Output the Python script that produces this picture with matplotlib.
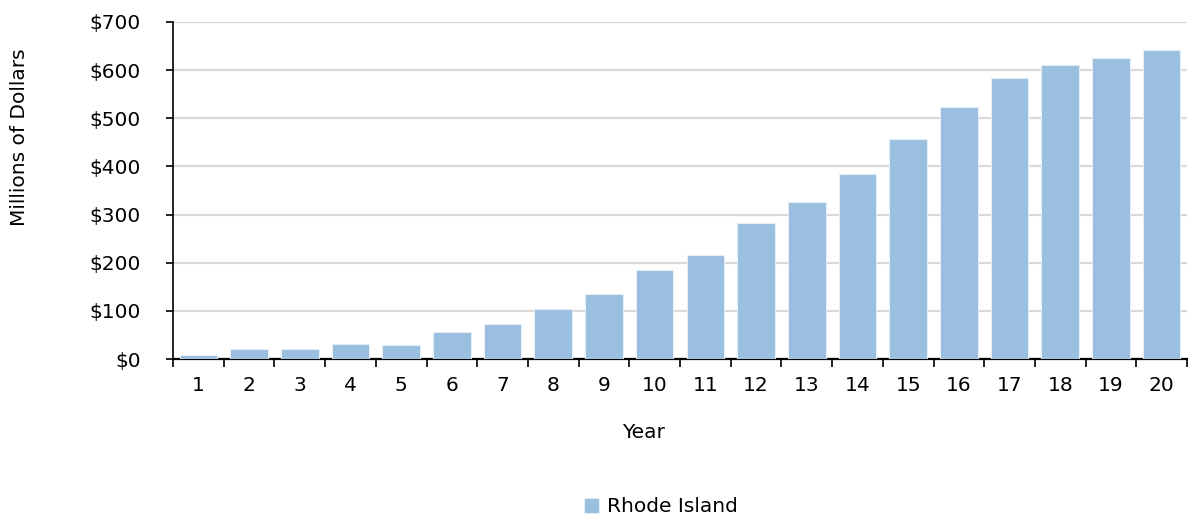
import numpy as np
import matplotlib
matplotlib.use("Agg")
import matplotlib.pyplot as plt
from matplotlib.ticker import FuncFormatter, FixedLocator

years = list(range(1, 21))
values = [9, 21, 21, 32, 29, 57, 73, 103, 136, 184,
          215, 282, 326, 385, 456, 523, 583, 611, 626, 642]
series_name = "Rhode Island"
y_ticks = [0, 100, 200, 300, 400, 500, 600, 700]

plt.rcParams["font.family"] = ["DejaVu Sans"]
FS = 14.5

fig = plt.figure(figsize=(11.91, 5.2), dpi=100)
ax = fig.add_axes([173 / 1191, 1 - 359 / 520, (1187 - 173) / 1191, (359 - 22) / 520])

x = np.arange(len(years))
ax.bar(x, values, width=0.74, color="#9BBFDF", edgecolor="#E4EEF8", linewidth=0.8,
       label=series_name, zorder=3)

ax.set_xlim(-0.5, len(years) - 0.5)
ax.set_ylim(0, 700)
ax.set_yticks(y_ticks)
ax.yaxis.set_major_formatter(FuncFormatter(lambda v, _: f"${v:,.0f}"))
ax.grid(axis="y", color="#D9D9D9", linewidth=1.6, zorder=0)

# category labels centred, tick marks at category boundaries
ax.set_xticks(x)
ax.set_xticklabels([str(y) for y in years])
ax.xaxis.set_minor_locator(FixedLocator(np.arange(-0.5, len(years), 1.0)))
ax.tick_params(axis="x", which="major", length=0, pad=12, labelsize=FS)
ax.tick_params(axis="x", which="minor", length=6, width=1.2, direction="out")
ax.tick_params(axis="y", length=5, width=1.2, labelsize=FS, pad=18)

for s in ["top", "right"]:
    ax.spines[s].set_visible(False)
ax.spines["left"].set_linewidth(1.2)
ax.spines["bottom"].set_linewidth(1.6)

ax.set_xlabel("Year", fontsize=FS)
ax.xaxis.set_label_coords((643 - 173) / 1014, (359 - 432) / 337)
ax.xaxis.label.set_va("center")
ax.set_ylabel("Millions of Dollars", fontsize=FS)
ax.yaxis.set_label_coords((20 - 173) / 1014, (359 - 137) / 337)
ax.yaxis.label.set_va("center")

fig.legend(loc="center", bbox_to_anchor=(661 / 1191, 1 - 507 / 520), frameon=False,
           fontsize=FS, handlelength=0.7, handleheight=0.7, handletextpad=0.4)

fig.savefig("out.png", dpi=100)
